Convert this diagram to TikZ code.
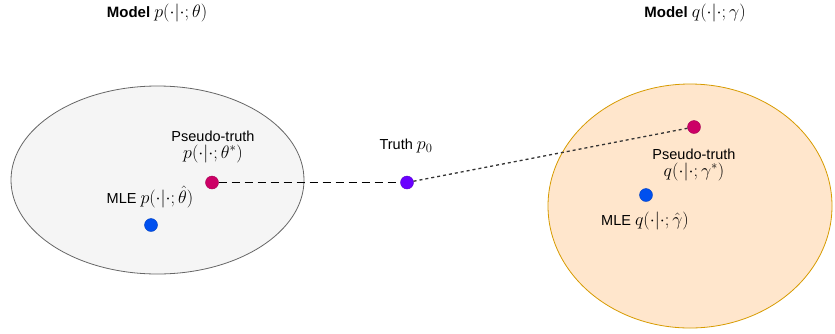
\documentclass[tikz,border=0pt]{standalone}
\usepackage{fix-cm}
\usepackage{fontspec}
\setmainfont{Liberation Sans}
\newcommand{\mth}[1]{{\fontsize{18}{20}\selectfont$#1$}}
\begin{document}
\begin{tikzpicture}[x=1pt,y=-1pt,
  lbl/.style={font=\fontsize{14.5}{17}\selectfont, inner sep=0pt, align=center},
  ttl/.style={font=\fontsize{15}{17}\selectfont, inner sep=0pt},
  dot/.style={circle, minimum size=13pt, inner sep=0pt, draw=#1!80!black, fill=#1, line width=0.4pt},
]
\definecolor{grayfill}{HTML}{F5F5F5}
\definecolor{graystroke}{HTML}{666666}
\definecolor{peach}{HTML}{FFE6CC}
\definecolor{orangestroke}{HTML}{D79B00}
\definecolor{magentadot}{HTML}{CC0066}
\definecolor{bluedot}{HTML}{0050EF}
\definecolor{purpledot}{HTML}{6A00FF}
\useasboundingbox (0,0) rectangle (835,333);

% ellipses
\draw[graystroke, fill=grayfill, line width=0.8pt] (157.5,180) ellipse [x radius=146.5, y radius=94];
\draw[orangestroke, fill=peach, line width=0.8pt] (690,206) ellipse [x radius=142, y radius=122];

% titles
\node[ttl] (t1) at (157,13) {\textbf{Model} \mth{p(\cdot|\cdot;\theta)}};
\node[ttl] (t2) at (695,13) {\textbf{Model} \mth{q(\cdot|\cdot;\gamma)}};

% dots
\node[dot=magentadot] (pt1) at (212,182.5) {};
\node[dot=bluedot] (mle1) at (151,225) {};
\node[dot=purpledot] (truth) at (407,182.5) {};
\node[dot=magentadot] (pt2) at (694,127) {};
\node[dot=bluedot] (mle2) at (646,195) {};

% labels
\node[lbl] (lpt1) at (213,146.5) {Pseudo-truth\\[0pt]\mth{p(\cdot|\cdot;\theta^{*})}};
\node[lbl] (lmle1) at (150,197) {MLE \mth{p(\cdot|\cdot;\hat\theta)}};
\node[lbl] (ltruth) at (406,146) {Truth \mth{p_0}};
\node[lbl] (lpt2) at (694,164.5) {Pseudo-truth\\[0pt]\mth{q(\cdot|\cdot;\gamma^{*})}};
\node[lbl] (lmle2) at (645,221) {MLE \mth{q(\cdot|\cdot;\hat\gamma)}};

% connectors
\draw[black, line width=1pt, dash pattern=on 8pt off 5pt] (pt1) -- (truth);
\draw[black!80, line width=1.3pt, dash pattern=on 3pt off 3pt] (truth) -- (pt2);
\end{tikzpicture}
\end{document}
